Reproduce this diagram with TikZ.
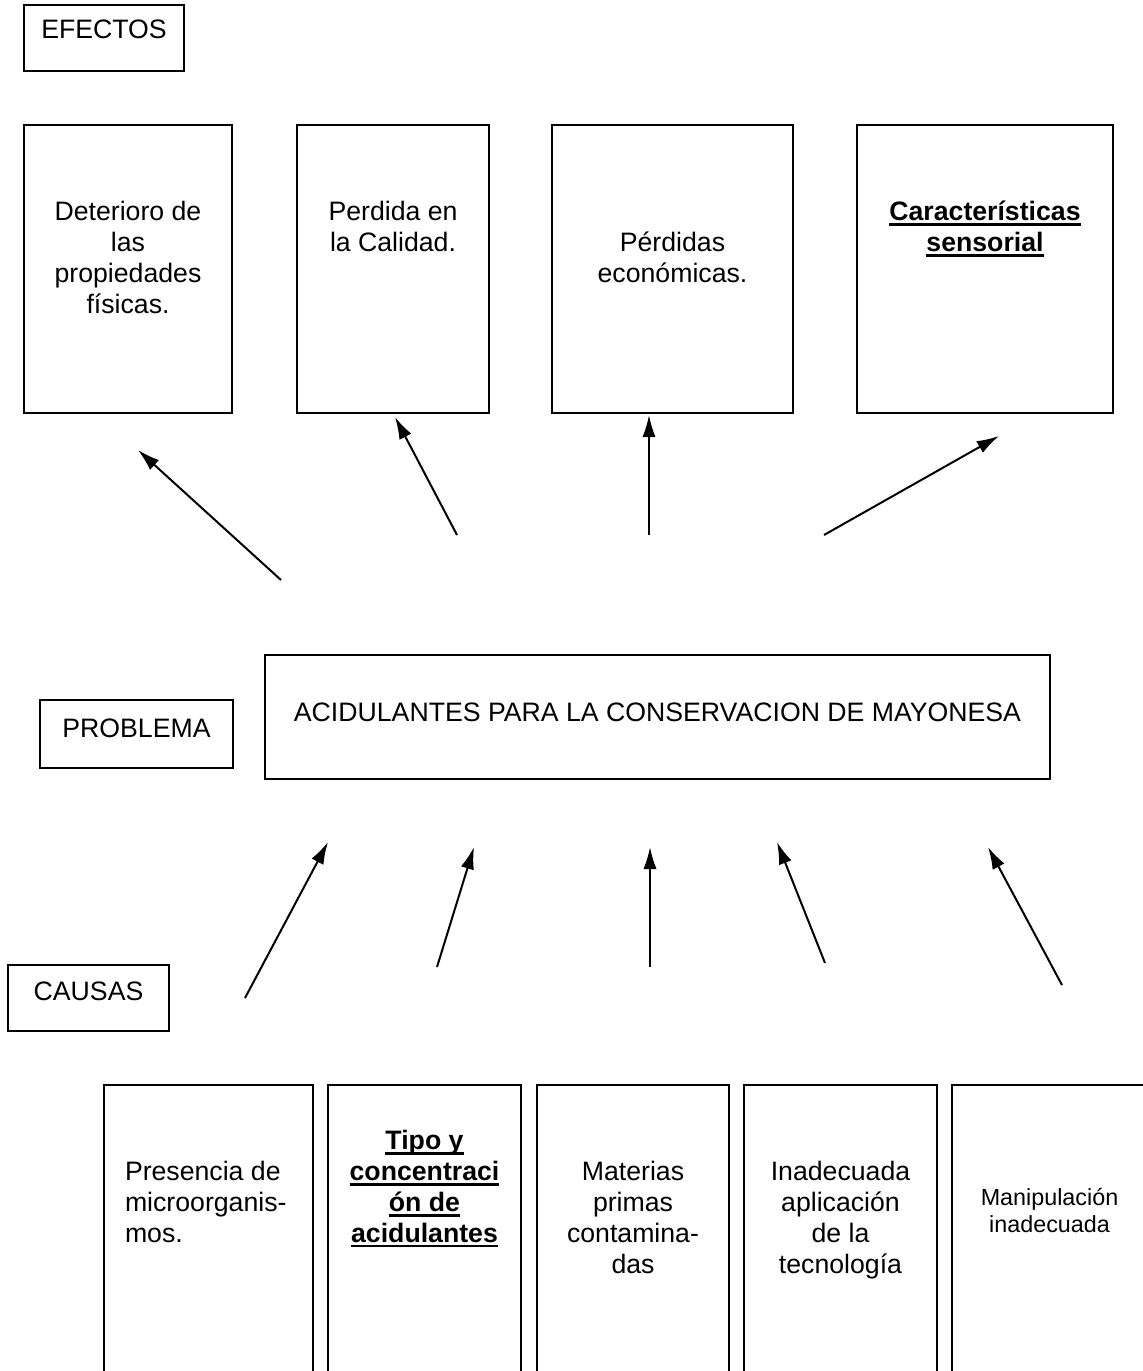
\documentclass[tikz,border=0pt]{standalone}
\usepackage{fontspec}
\setmainfont{Liberation Sans}
\usetikzlibrary{arrows.meta}
\newsavebox\ulinebox
\newcommand\ulin[1]{\leavevmode\sbox\ulinebox{#1}\rlap{\rule[-2.3pt]{\wd\ulinebox}{1.1pt}}\usebox\ulinebox}
% #1 width px, #2 height px, #3 top gap px, #4 alignment, #5 text
\newcommand\bxt[5]{\parbox[c][\dimexpr0.45pt*#2\relax][t]{\dimexpr0.45pt*#1\relax}{\vspace*{\dimexpr0.45pt*#3\relax}#4\strut #5\par}}
\tikzset{
  bx/.style={draw, line width=0.8pt, rectangle, inner sep=0pt, outer sep=0pt, anchor=north west, font=\fontsize{12}{13.9}\selectfont},
  arr/.style={line width=0.9pt, -{Latex[length=10pt,width=6pt]}}
}
\begin{document}
\begin{tikzpicture}[x=0.45pt,y=-0.45pt]
\useasboundingbox (0,0) rectangle (1143,1371);
\clip (0,0) rectangle (1143,1371);
% effects
\node[bx] (efectos) at (24,5) {\bxt{160}{66}{12}{\centering}{EFECTOS}};
\node[bx] (e1) at (24,125) {\bxt{208}{288}{74}{\centering}{Deterioro de\\las\\propiedades\\físicas.}};
\node[bx] (e2) at (297,125) {\bxt{192}{288}{74}{\centering}{Perdida en\\la Calidad.}};
\node[bx] (e3) at (552,125) {\bxt{241}{288}{105}{\centering}{Pérdidas\\económicas.}};
\node[bx] (e4) at (857,125) {\bxt{256}{288}{74}{\centering}{\bfseries\ulin{Características}\\\ulin{sensorial}}};
% problem
\node[bx] (problema) at (40,700) {\bxt{193}{68}{16}{\centering}{PROBLEMA}};
\node[bx] (main) at (265,655) {\bxt{785}{124}{45}{\centering}{ACIDULANTES PARA LA CONSERVACION DE MAYONESA}};
% causes
\node[bx] (causas) at (8,965) {\bxt{161}{66}{14}{\centering}{CAUSAS}};
\node[bx] (c1) at (104,1085) {\bxt{209}{400}{74}{\raggedright\leftskip=9.45pt}{Presencia de\\microorganis-\\mos.}};
\node[bx] (c2) at (328,1085) {\bxt{193}{400}{43}{\centering}{\bfseries\ulin{Tipo y}\\\ulin{concentraci}\\\ulin{ón de}\\\ulin{acidulantes}}};
\node[bx] (c3) at (537,1085) {\bxt{192}{400}{74}{\centering}{Materias\\primas\\contamina-\\das}};
\node[bx] (c4) at (744,1085) {\bxt{193}{400}{74}{\centering}{Inadecuada\\aplicación\\de la\\tecnología}};
\node[bx] (c5) at (952,1085) {\bxt{195}{400}{102}{\centering\fontsize{10.5}{12.1}\selectfont}{Manipulación\\inadecuada}};
% arrow end points
\coordinate (t1s) at (281,580); \coordinate (t1e) at (138,450);
\coordinate (t2s) at (457,535); \coordinate (t2e) at (395,417);
\coordinate (t3s) at (649,535); \coordinate (t3e) at (649,415);
\coordinate (t4s) at (824,535); \coordinate (t4e) at (999,436);
\coordinate (b1s) at (245,998); \coordinate (b1e) at (328,842);
\coordinate (b2s) at (437,967); \coordinate (b2e) at (474,847);
\coordinate (b3s) at (650,967); \coordinate (b3e) at (650,847);
\coordinate (b4s) at (825,963); \coordinate (b4e) at (777,842);
\coordinate (b5s) at (1062,985); \coordinate (b5e) at (988,847);
\foreach \a in {t1,t2,t3,t4,b1,b2,b3,b4,b5}{
  \draw[arr] (\a s) -- (\a e);
}
\end{tikzpicture}
\end{document}
